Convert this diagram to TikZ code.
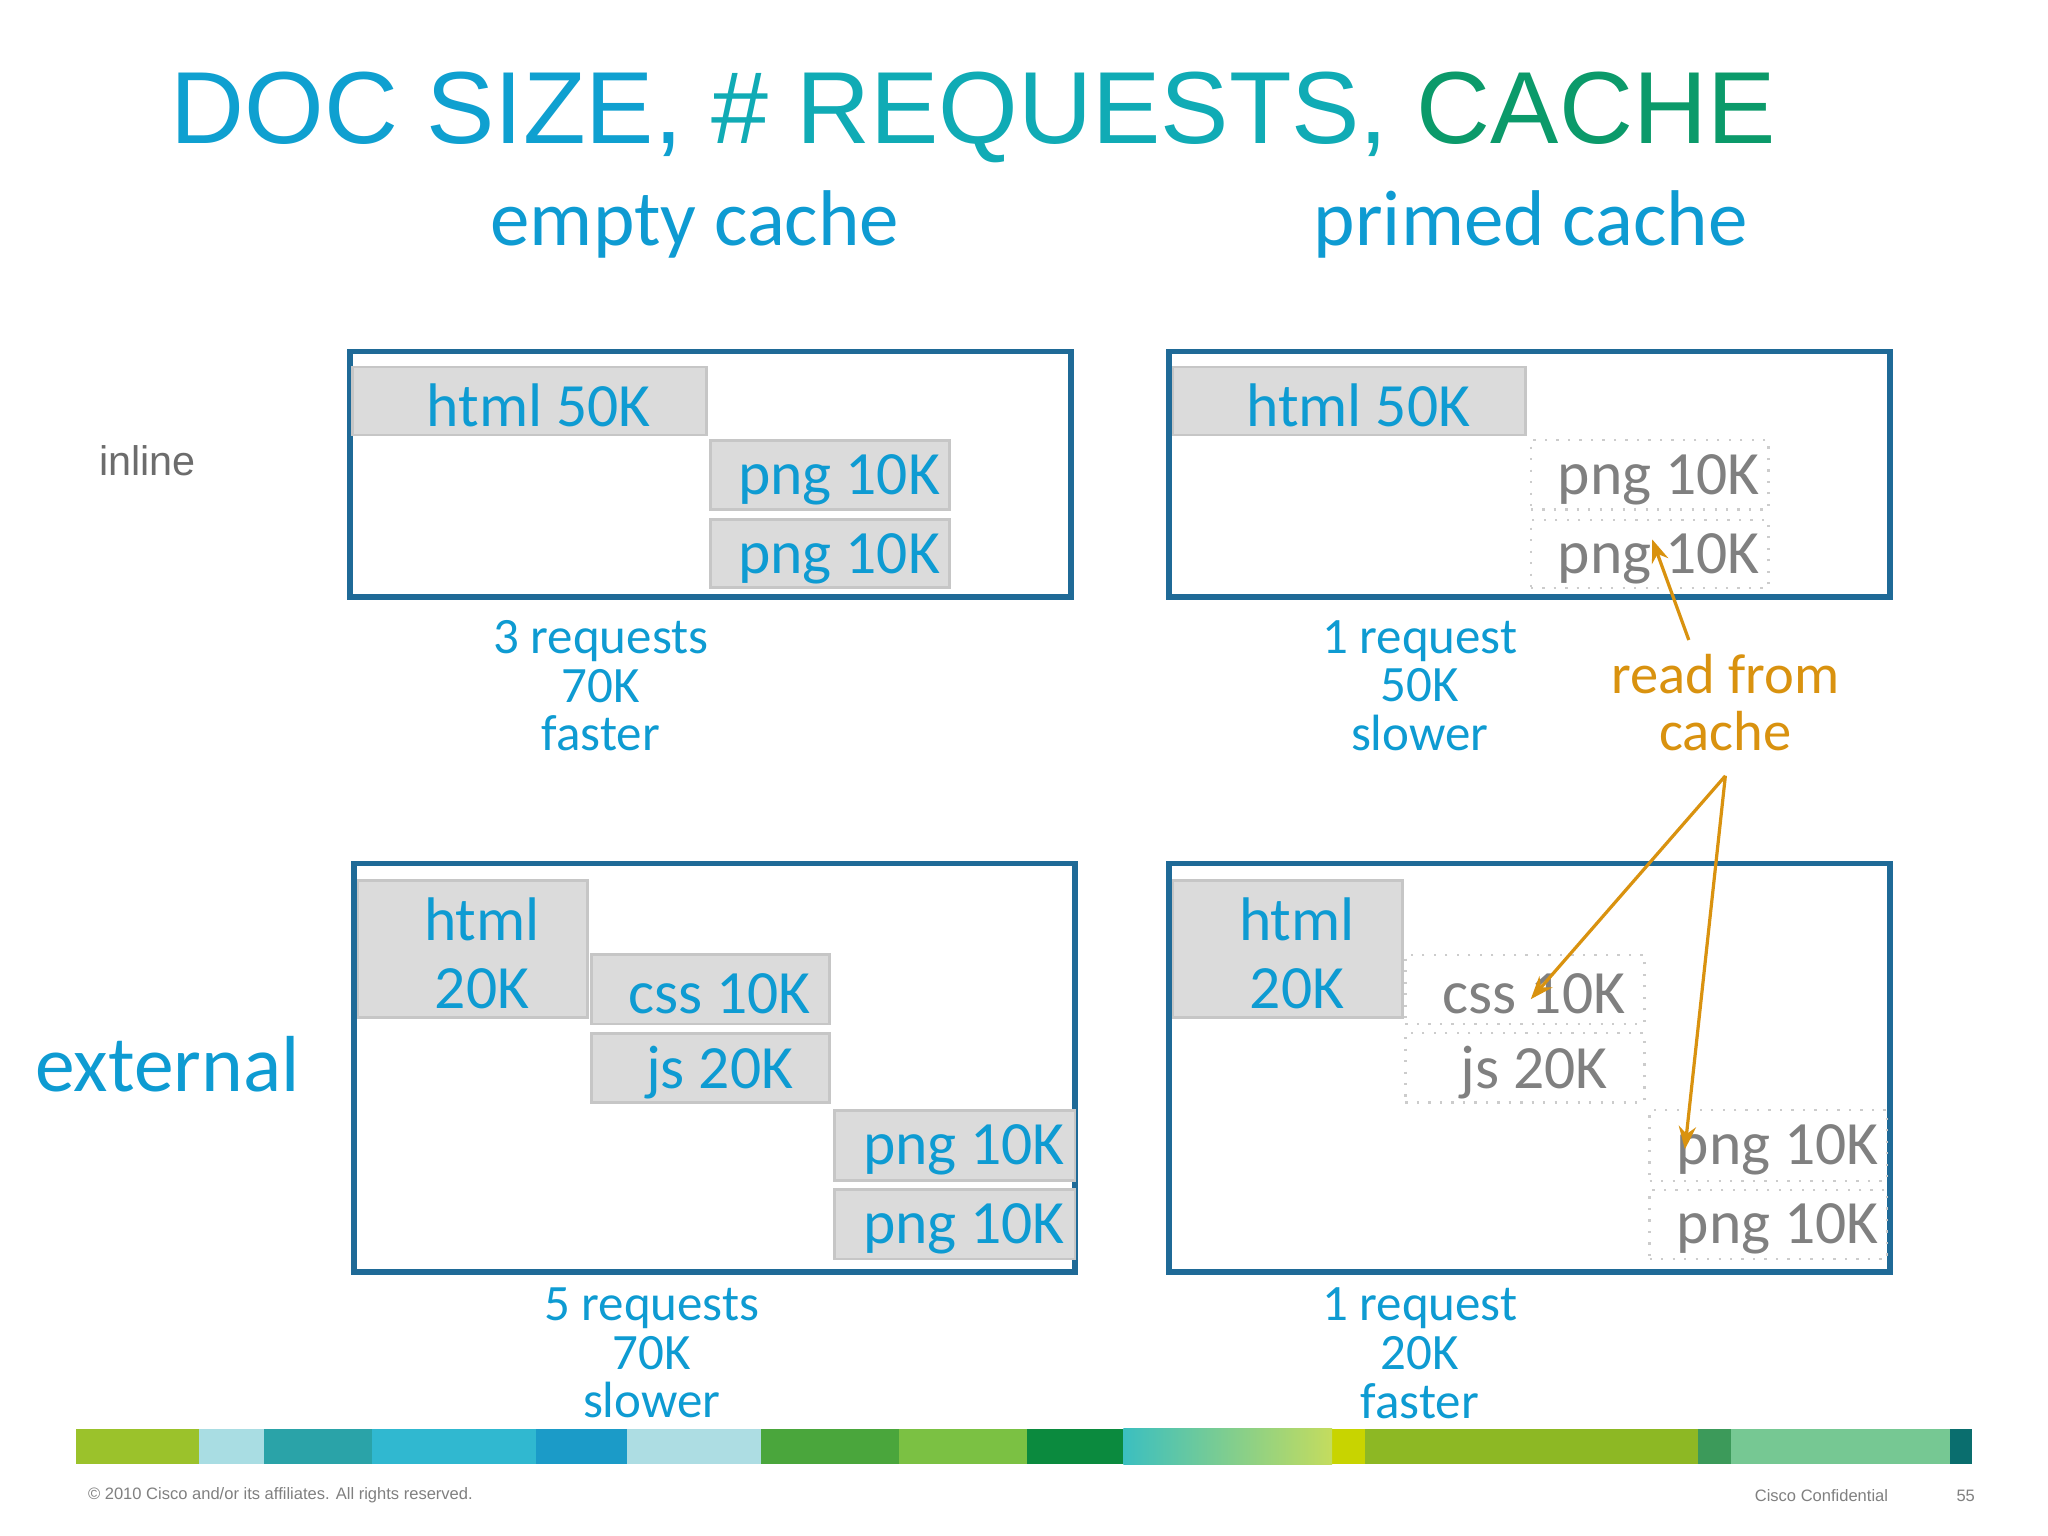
\documentclass[tikz,border=0pt]{standalone}
\usepackage{fontspec}
\setmainfont{Carlito}
\newfontfamily\arial{Liberation Sans}
\usetikzlibrary{fit,arrows.meta}
\definecolor{fr}{HTML}{1F6A97}
\definecolor{cb}{HTML}{0E9BD2}
\definecolor{og}{HTML}{D9920F}
\definecolor{gt}{HTML}{808080}
\tikzset{
 frame/.style={draw=fr,line width=1.2pt,inner sep=0pt},
 blk/.style={draw=gray!45,fill=gray!28,line width=0.6pt,inner sep=0pt},
 dblk/.style={draw=gray!40,dotted,line width=0.5pt,fill=white,inner sep=0pt},
 bt/.style={font=\fontsize{13.4}{15}\selectfont,text=cb,xshift=2pt,yshift=-1pt},
 gtx/.style={font=\fontsize{13.4}{15}\selectfont,text=gt,xshift=2pt,yshift=-1pt},
 captxt/.style={font=\fontsize{11.1}{10.6}\selectfont,text=cb,align=center},
 oarr/.style={draw=og,line width=0.7pt,-{Stealth[length=5pt]}}
}
\newcommand{\blk}[7]{\node[#7,fit={(#2,#3)(#4,#5)},label={[#6]center:#1}] ({#1#2#3}) {};}
\begin{document}
\begin{tikzpicture}[x=0.01cm,y=-0.01cm]
\useasboundingbox[fill=white] (0,0) rectangle (1568,1176);
\node[font=\arial\fontsize{22.3}{24}\selectfont] (title) at (745,90) {\textcolor[HTML]{0FA0D0}{DOC SIZE,} \textcolor[HTML]{10ABB5}{\# REQUESTS,} \textcolor[HTML]{0B9A6A}{CACHE}};
\node[font=\fontsize{17.2}{18}\selectfont,text=cb] (h1) at (532,172) {empty cache};
\node[font=\fontsize{17.2}{18}\selectfont,text=cb] (h2) at (1172,172) {primed cache};
\node[font=\arial\fontsize{9}{10}\selectfont,text=gray!85!black] (inl) at (113,353) {inline};
\node[font=\fontsize{17.3}{18}\selectfont,text=cb] (ext) at (128,815) {external};
% frames
\node[frame,fit={(268,269)(820,457)}] (f1) {};
\node[frame,fit={(895,269)(1447,457)}] (f2) {};
\node[frame,fit={(271,661)(823,974)}] (f3) {};
\node[frame,fit={(895,661)(1447,974)}] (f4) {};
% top left
\blk{html 50K}{270}{281}{541}{333}{bt}{blk}
\blk{png 10K}{544}{337}{727}{390}{bt}{blk}
\blk{png 10K}{544}{398}{727}{450}{bt}{blk}
% top right
\blk{html 50K}{898}{281}{1168}{333}{bt}{blk}
\blk{png 10K}{1172}{337}{1354}{390}{gtx}{dblk}
\blk{png 10K}{1172}{398}{1354}{450}{gtx}{dblk}
% bottom left
\node[blk,fit={(274,674)(450,779)},label={[bt,align=center,font=\fontsize{13.4}{14.7}\selectfont]center:html\\20K}] (bh1) {};
\blk{css 10K}{453}{731}{635}{784}{bt}{blk}
\blk{js 20K}{453}{791}{635}{844}{bt}{blk}
\blk{png 10K}{639}{850}{823}{904}{bt}{blk}
\blk{png 10K}{639}{911}{823}{964}{bt}{blk}
% bottom right
\node[blk,fit={(898,674)(1074,779)},label={[bt,align=center,font=\fontsize{13.4}{14.7}\selectfont]center:html\\20K}] (bh2) {};
\blk{css 10K}{1076}{731}{1259}{784}{gtx}{dblk}
\blk{js 20K}{1076}{791}{1259}{844}{gtx}{dblk}
\blk{png 10K}{1263}{850}{1445}{904}{gtx}{dblk}
\blk{png 10K}{1263}{911}{1445}{964}{gtx}{dblk}
% captions
\node[captxt] (c1) at (460,525) {3 requests\\70K\\faster};
\node[captxt] (c2) at (1087,525) {1 request\\50K\\slower};
\node[captxt] (c3) at (499,1036) {5 requests\\70K\\slower};
\node[captxt] (c4) at (1087,1036) {1 request\\20K\\faster};
\node[captxt,text=og,font=\fontsize{12.3}{12.5}\selectfont] (rfc) at (1321,538) {read from\\cache};
\coordinate (a1s) at (1293,490); \coordinate (a1e) at (1265,413);
\coordinate (a2s) at (1321,594); \coordinate (a2e) at (1172,765); \coordinate (a3e) at (1290,880);
\draw[oarr] (a1s) -- (a1e);
\draw[oarr] (a2s) -- (a2e);
\draw[oarr] (a2s) -- (a3e);
% color bar
\foreach \a/\b/\c in {58/152/9BC22B,152/202/A9DDE3,202/285/2AA3A8,285/410/30B8D0,410/480/1B9BC8,480/583/ADDDE3,583/688/4AA63C,688/786/7BC143,786/860/0B8A3E,1020/1045/C8D400,1045/1300/8DB824,1300/1325/3C9A5A,1325/1493/76C893,1493/1510/0A6E6E}
  {\definecolor{tmp}{HTML}{\c}\fill[tmp] (\a,1094) rectangle (\b,1121);}
\definecolor{gA}{HTML}{3BBFC0}\definecolor{gB}{HTML}{C4DC5E}
\shade[left color=gA,right color=gB] (860,1094) rectangle (1020,1121);
\node[font=\arial\fontsize{3.6}{4}\selectfont,text=gray,anchor=west] (ft1) at (55,1145) {© 2010 Cisco and/or its affiliates. All rights reserved.};
\node[font=\arial\fontsize{3.6}{4}\selectfont,text=gray,anchor=east] (ft2) at (1458,1145) {Cisco Confidential};
\node[font=\arial\fontsize{3.6}{4}\selectfont,text=gray] (ft3) at (1505,1145) {55};
\end{tikzpicture}
\end{document}
